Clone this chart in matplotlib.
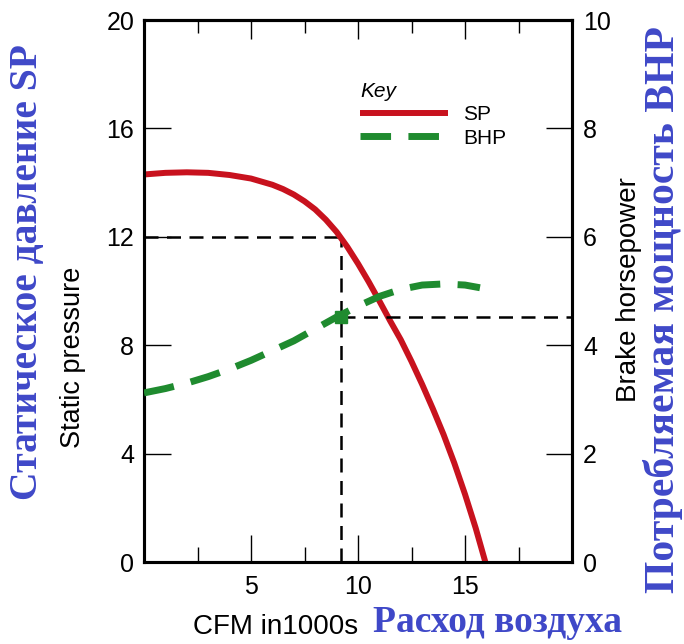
import matplotlib
matplotlib.use("Agg")
import matplotlib.pyplot as plt

# Fan performance curve: static pressure (left) and brake horsepower (right)
cfm = [0, 1, 2, 3, 4, 5, 6, 6.5, 7, 7.5, 8, 8.5, 9, 9.5, 10, 10.5, 11, 11.5,
       12, 12.5, 13, 13.5, 14, 14.5, 15, 15.5, 15.95]
static_pressure = [14.3, 14.36, 14.38, 14.36, 14.28, 14.15, 13.92, 13.76, 13.56,
                   13.31, 13.01, 12.63, 12.18, 11.63, 11.01, 10.34, 9.63, 8.9,
                   8.2, 7.4, 6.55, 5.65, 4.7, 3.65, 2.5, 1.25, 0.0]

cfm_bhp = [0, 1, 2, 3, 4, 5, 6, 7, 8, 9, 10, 11, 12, 13, 14, 15, 15.7]
brake_hp = [3.12, 3.2, 3.3, 3.42, 3.56, 3.72, 3.9, 4.08, 4.3, 4.52, 4.72,
            4.9, 5.03, 5.11, 5.13, 5.11, 5.06]

# operating point
op_cfm = 9.2
op_sp = 12.0
op_bhp = 4.52

x_major = [0, 5, 10, 15, 20]
x_major_labels = ["", "5", "10", "15", ""]
x_minor = [2.5, 7.5, 12.5, 17.5]
sp_ticks = [0, 4, 8, 12, 16, 20]
bhp_ticks = [0, 2, 4, 6, 8, 10]

RED = "#C8121E"
GREEN = "#1F8B2F"
BLUE = "#3F48C8"

plt.rcParams.update({
    "font.family": ["Liberation Sans", "DejaVu Sans"],
    "font.size": 18,
    "axes.linewidth": 2.2,
})

fig = plt.figure(figsize=(6.84, 6.44), dpi=100)
ax = fig.add_axes([144 / 684, 82 / 644, 428 / 684, 542 / 644])
ax2 = ax.twinx()

sp_line, = ax.plot(cfm, static_pressure, color=RED, lw=4.3, label="SP",
                   solid_capstyle="butt", zorder=3)
bhp_line, = ax2.plot(cfm_bhp, brake_hp, color=GREEN, lw=5, dashes=(4.4, 2.5),
                     label="BHP", zorder=3)

# operating point guide lines
dash = (5.6, 3.4)
ax.hlines(op_sp, 0, op_cfm, color="black", lw=1.8, linestyles=[(0, dash)])
ax.vlines(op_cfm, 0, op_sp, color="black", lw=1.8, linestyles=[(0, dash)])
ax2.hlines(op_bhp, op_cfm, 20, color="black", lw=1.8, linestyles=[(0, dash)])
ax2.plot([op_cfm], [op_bhp], marker="s", color=GREEN, markersize=9, zorder=4)

ax.set_xlim(0, 20)
ax.set_ylim(0, 20)
ax2.set_ylim(0, 10)

ax.set_xticks(x_major)
ax.set_xticklabels(x_major_labels)
ax.set_xticks(x_minor, minor=True)
ax.set_yticks(sp_ticks)
ax2.set_yticks(bhp_ticks)

ax.tick_params(axis="x", which="major", direction="in", length=19.5, width=1,
               pad=9, labelsize=18)
ax.tick_params(axis="x", which="minor", direction="in", length=11, width=1)
ax.tick_params(axis="y", direction="in", length=19.5, width=1, pad=7,
               labelsize=18)
ax2.tick_params(axis="y", direction="in", length=19, width=1, pad=8,
                labelsize=18)

top = ax.secondary_xaxis("top")
top.set_xticks(x_major)
top.set_xticks(x_minor, minor=True)
top.tick_params(which="major", direction="in", length=14, width=1, labeltop=False)
top.tick_params(which="minor", direction="in", length=9.5, width=1)
top.spines["top"].set_linewidth(2.2)

ax.set_xlabel("CFM in1000s", fontsize=20, va="center")
ax.xaxis.set_label_coords(0.308, -0.12)
ax.set_ylabel("Static pressure", fontsize=19.5, va="center")
ax.yaxis.set_label_coords(-0.165, 0.378)
ax2.set_ylabel("Brake horsepower", fontsize=20, va="center")
ax2.yaxis.set_label_coords(1.133, 0.502)

leg = ax2.legend(handles=[sp_line, bhp_line], loc="upper left",
                 bbox_to_anchor=(0.505, 0.885), frameon=False, fontsize=15,
                 title="Key", title_fontproperties={"style": "italic", "size": 15},
                 alignment="left", handlelength=4.2, handletextpad=0.75,
                 labelspacing=0.2, borderpad=0, borderaxespad=0)

# Russian annotations
serif = ["Liberation Serif", "DejaVu Serif"]
fig.text(0.040, 0.578, "Статическое давление SP", rotation=90, ha="center",
         va="center", color=BLUE, fontsize=28.5, fontweight="bold", family=serif)
fig.text(0.970, 0.519, "Потребляемая мощность BHP", rotation=90, ha="center",
         va="center", color=BLUE, fontsize=30, fontweight="bold", family=serif)
fig.text(0.727, 0.034, "Расход воздуха", ha="center", va="center",
         color=BLUE, fontsize=27, fontweight="bold", family=serif)

fig.savefig("out.png", dpi=100)
